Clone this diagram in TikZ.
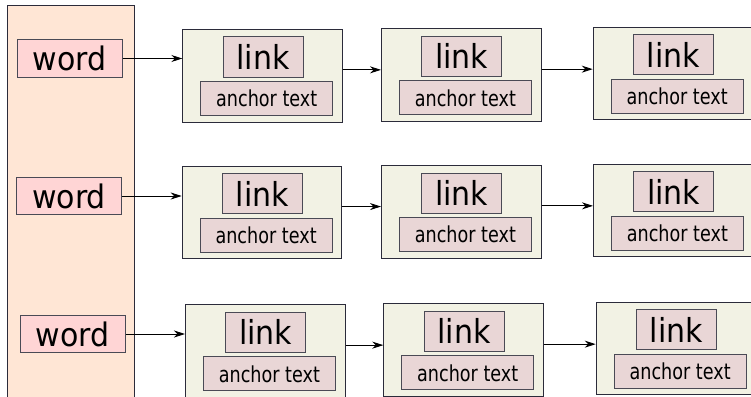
\documentclass[tikz,border=0pt]{standalone}
\usepackage{fontspec}
\setmainfont{DejaVu Sans}
\newfontfamily\condfont{DejaVu Sans}[FakeStretch=0.88]
\usetikzlibrary{arrows.meta,calc}
\definecolor{panelfill}{HTML}{FFE6D5}
\definecolor{wordfill}{HTML}{FFD5D5}
\definecolor{boxfill}{HTML}{F2F2E4}
\definecolor{innerfill}{HTML}{E9D6D6}
\definecolor{edgec}{HTML}{2B2B3A}
\definecolor{inneredge}{HTML}{4A4A55}
\newcommand{\vstretch}[2]{\scalebox{1}[#1]{#2}}
\tikzset{
  panel/.style={draw=edgec, fill=panelfill, line width=1pt},
  wordbox/.style={draw=inneredge, fill=wordfill, line width=1pt, minimum width=105pt, minimum height=37pt, inner sep=0pt,
    font=\fontsize{30}{34}\selectfont},
  linkgroup/.style={draw=edgec, fill=boxfill, line width=1pt, minimum width=159.7pt, minimum height=92.7pt, inner sep=0pt, anchor=north west},
  linkbox/.style={draw=inneredge, fill=innerfill, line width=1pt, minimum width=80pt, minimum height=40pt, inner sep=0pt,
    font=\fontsize{30}{34}\selectfont},
  anchorbox/.style={draw=inneredge, fill=innerfill, line width=1pt, minimum width=132pt, minimum height=34pt, inner sep=0pt,
    font=\condfont\fontsize{20}{24}\selectfont},
  conn/.style={draw=black, line width=0.9pt, -{Stealth[length=11pt,width=7pt,inset=3.5pt]}}
}
\newcommand{\linkgrp}[3]{%
  \node[linkgroup] (#1) at (#2,#3) {};
  \node[linkbox] (#1l) at ($(#2,#3)+(80.7,28)$) {\vstretch{1.1}{link}};
  \node[anchorbox] (#1a) at ($(#2,#3)+(84.4,69.5)$) {\vstretch{1.1}{anchor text}};
}
\begin{document}
\begin{tikzpicture}[x=1pt,y=-1pt]
\useasboundingbox (0,0) rectangle (751,396);
\path[panel] (7,5.3) rectangle (134.7,402);
\node[wordbox] (w1) at (69.5,58.5) {\vstretch{1.08}{word}};
\node[wordbox] (w2) at (69,196) {\vstretch{1.08}{word}};
\node[wordbox] (w3) at (72.6,334) {\vstretch{1.08}{word}};
\linkgrp{c11}{182.3}{29}
\linkgrp{c12}{381}{28.3}
\linkgrp{c13}{592.7}{26.7}
\linkgrp{c21}{181.7}{165.7}
\linkgrp{c22}{381}{165}
\linkgrp{c23}{593}{163.5}
\linkgrp{c31}{185}{304.3}
\linkgrp{c32}{383.3}{303.3}
\linkgrp{c33}{595.7}{301.7}
\draw[conn] (w1.east) -- (w1.east -| c11.west);
\draw[conn] (w2.east) -- (w2.east -| c21.west);
\draw[conn] (w3.east) -- (w3.east -| c31.west);
\draw[conn] ([yshift=6pt]c11.east) -- ([yshift=6pt]c11.east -| c12.west);
\draw[conn] ([yshift=6pt]c12.east) -- ([yshift=6pt]c12.east -| c13.west);
\draw[conn] ([yshift=6pt]c21.east) -- ([yshift=6pt]c21.east -| c22.west);
\draw[conn] ([yshift=6pt]c22.east) -- ([yshift=6pt]c22.east -| c23.west);
\draw[conn] ([yshift=6pt]c31.east) -- ([yshift=6pt]c31.east -| c32.west);
\draw[conn] ([yshift=6pt]c32.east) -- ([yshift=6pt]c32.east -| c33.west);
\end{tikzpicture}
\end{document}
